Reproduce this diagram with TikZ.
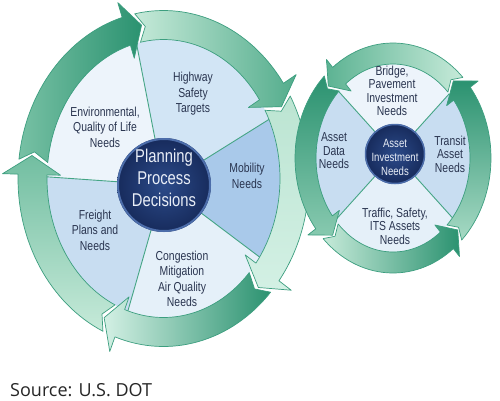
\documentclass[tikz,border=0pt]{standalone}
\usepackage{fontspec}
\setmainfont{Liberation Sans}
\newfontfamily\nar[FakeStretch=0.8]{Liberation Sans}
\newfontfamily\srcfont{Open Sans}
\definecolor{arrline}{HTML}{3C9E7F}
\definecolor{gDark}{HTML}{2B9270}
\definecolor{gMid}{HTML}{5DB393}
\definecolor{gLight}{HTML}{C6EAD9}
\definecolor{gPale}{HTML}{D3F0E4}
\definecolor{sEnv}{HTML}{EDF4FB}
\definecolor{sHW}{HTML}{D2E5F5}
\definecolor{sMob}{HTML}{A9C9EA}
\definecolor{sCon}{HTML}{E5F0F9}
\definecolor{sFre}{HTML}{C8DDF1}
\definecolor{divcol}{HTML}{45A585}
\definecolor{txtcol}{HTML}{2A3550}
\definecolor{navyA}{HTML}{2C4B8A}
\definecolor{navyB}{HTML}{172B5C}
\definecolor{navyRim}{HTML}{4C6DAA}
\definecolor{ctxt}{HTML}{E9EEF7}
\tikzset{
  arr/.style={draw=arrline, line width=0.7pt, line join=round},
  divline/.style={draw=divcol, line width=0.9pt},
  segtxt/.style={text=txtcol, align=center, inner sep=0pt, font=\nar\fontsize{13}{15.5}\selectfont},
  smalltxt/.style={text=txtcol, align=center, inner sep=0pt, font=\nar\fontsize{13}{13.5}\selectfont},
  bigctr/.style={text=ctxt, align=center, inner sep=0pt, font=\nar\fontsize{18.5}{22}\selectfont},
  smallctr/.style={text=ctxt, align=center, inner sep=0pt, font=\nar\fontsize{12}{14}\selectfont},
}
% big ring arrow: #1 notch, #2 tail corners, #3 head base, #4 tip, #5 shading
\newcommand\bigarrow[5]{%
  \shade[arr,#5] ([shift={(BC)}]#2:145.5 and 168) arc[start angle=#2, end angle=#3, x radius=145.5, y radius=168]
   -- ([shift={(BC)}]#3:161 and 183.5) -- ([shift={(BC)}]#4:133 and 155.5)
   -- ([shift={(BC)}]#3:103 and 125.5) -- ([shift={(BC)}]#3:116.5 and 139)
   arc[start angle=#3, end angle=#2, x radius=116.5, y radius=139]
   -- ([shift={(BC)}]#1:131 and 153.5) -- cycle;}
\newcommand\smallarrow[5]{%
  \shade[arr,#5] ([shift={(SC)}]#2:98 and 115) arc[start angle=#2, end angle=#3, x radius=98, y radius=115]
   -- ([shift={(SC)}]#3:108 and 125) -- ([shift={(SC)}]#4:88.5 and 105.5)
   -- ([shift={(SC)}]#3:68 and 85) -- ([shift={(SC)}]#3:77 and 94)
   arc[start angle=#3, end angle=#2, x radius=77, y radius=94]
   -- ([shift={(SC)}]#1:87.5 and 104.5) -- cycle;}
\begin{document}
\begin{tikzpicture}[x=1pt,y=1pt]
\useasboundingbox (0,0) rectangle (500,-400);
\fill[white] (0,0) rectangle (500,-400);
\coordinate (BC) at (163.5,-178.5);
\coordinate (BD) at (164,-185);
\coordinate (SC) at (393,-158);
\coordinate (SD) at (395,-154);
% ---- big disk
\begin{scope}
  \clip (BC) ellipse [x radius=116.5, y radius=139];
  \fill[sHW]  (BD) -- ([shift={(BD)}]32:300) -- ([shift={(BD)}]66:300) -- ([shift={(BD)}]101:300) -- cycle;
  \fill[sEnv] (BD) -- ([shift={(BD)}]101:300) -- ([shift={(BD)}]138:300) -- ([shift={(BD)}]176:300) -- cycle;
  \fill[sFre] (BD) -- ([shift={(BD)}]176:300) -- ([shift={(BD)}]215:300) -- ([shift={(BD)}]254:300) -- cycle;
  \fill[sCon] (BD) -- ([shift={(BD)}]254:300) -- ([shift={(BD)}]288:300) -- ([shift={(BD)}]323:300) -- cycle;
  \fill[sMob] (BD) -- ([shift={(BD)}]323:300) -- ([shift={(BD)}]0:300) -- ([shift={(BD)}]32:300) -- cycle;
  \foreach \a in {32,101,176,254,323} \draw[divline] (BD) -- ([shift={(BD)}]\a:300);
\end{scope}
% ---- big ring arrows (clockwise)
\bigarrow{170}{173.4}{106.5}{99.5}{left color=gMid!75!gLight, right color=gDark}
\bigarrow{98}{101.4}{34.5}{27.5}{left color=gLight, right color=gMid!80!gDark}
\bigarrow{26}{29.4}{-37.5}{-44.5}{top color=gLight!90!gMid, bottom color=gPale}
\bigarrow{-46}{-42.6}{-109.5}{-116.5}{left color=gPale, right color=gDark}
\bigarrow{-118}{-114.6}{-181.5}{-188.5}{bottom color=gLight, top color=gMid!80!gLight}
% ---- big centre
\shade[inner color=navyA, outer color=navyB] (BD) circle (47);
\draw[navyRim, line width=2pt] (BD) circle (46);
\node[bigctr] (pp) at (164,-178) {Planning\\Process\\Decisions};
\node[segtxt] (hw) at (193,-94) {Highway\\Safety\\Targets};
\node[segtxt] (env) at (105,-127) {Environmental,\\Quality of Life\\Needs};
\node[segtxt] (mob) at (247,-176) {Mobility\\Needs};
\node[segtxt] (con) at (182,-279) {Congestion\\Mitigation\\Air Quality\\Needs};
\node[segtxt] (fre) at (95,-230) {Freight\\Plans and\\Needs};
% ---- small disk
\begin{scope}
  \clip (SC) ellipse [x radius=77, y radius=94];
  \fill[sEnv] (SD) -- ([shift={(SD)}]48:200) -- ([shift={(SD)}]90:200) -- ([shift={(SD)}]132:200) -- cycle;
  \fill[sFre] (SD) -- ([shift={(SD)}]132:200) -- ([shift={(SD)}]180:200) -- ([shift={(SD)}]228:200) -- cycle;
  \fill[sCon] (SD) -- ([shift={(SD)}]228:200) -- ([shift={(SD)}]270:200) -- ([shift={(SD)}]312:200) -- cycle;
  \fill[sFre] (SD) -- ([shift={(SD)}]312:200) -- ([shift={(SD)}]0:200) -- ([shift={(SD)}]48:200) -- cycle;
  \foreach \a in {48,132,228,312} \draw[divline] (SD) -- ([shift={(SD)}]\a:200);
\end{scope}
% ---- small ring arrows (counter-clockwise)
\smallarrow{48.5}{44.5}{128}{137}{right color=gLight, left color=gMid}
\smallarrow{138.5}{134.5}{218}{227}{top color=gDark, bottom color=gMid!60!gLight}
\smallarrow{-131.5}{-135.5}{-52}{-43}{left color=gLight, right color=gDark}
\smallarrow{-41.5}{-45.5}{38}{47}{bottom color=gLight!70!gMid, top color=gDark}
% ---- small centre
\shade[inner color=navyA, outer color=navyB] (SD) circle (30);
\draw[navyRim, line width=1.5pt] (SD) circle (29.5);
\node[smallctr] (ain) at (395,-157) {Asset\\Investment\\Needs};
\node[smalltxt] (bri) at (392,-91) {Bridge,\\Pavement\\Investment\\Needs};
\node[smalltxt] (adn) at (334,-151) {Asset\\Data\\Needs};
\node[smalltxt] (tan) at (450,-154) {Transit\\Asset\\Needs};
\node[smalltxt] (tsi) at (395,-226) {Traffic, Safety,\\ITS Assets\\Needs};
% ---- source
\node[anchor=base west, inner sep=0pt, text=black!85, font=\srcfont\fontsize{18}{20}\selectfont] (src) at (10,-396) {Source: U.S. DOT};
\end{tikzpicture}
\end{document}
